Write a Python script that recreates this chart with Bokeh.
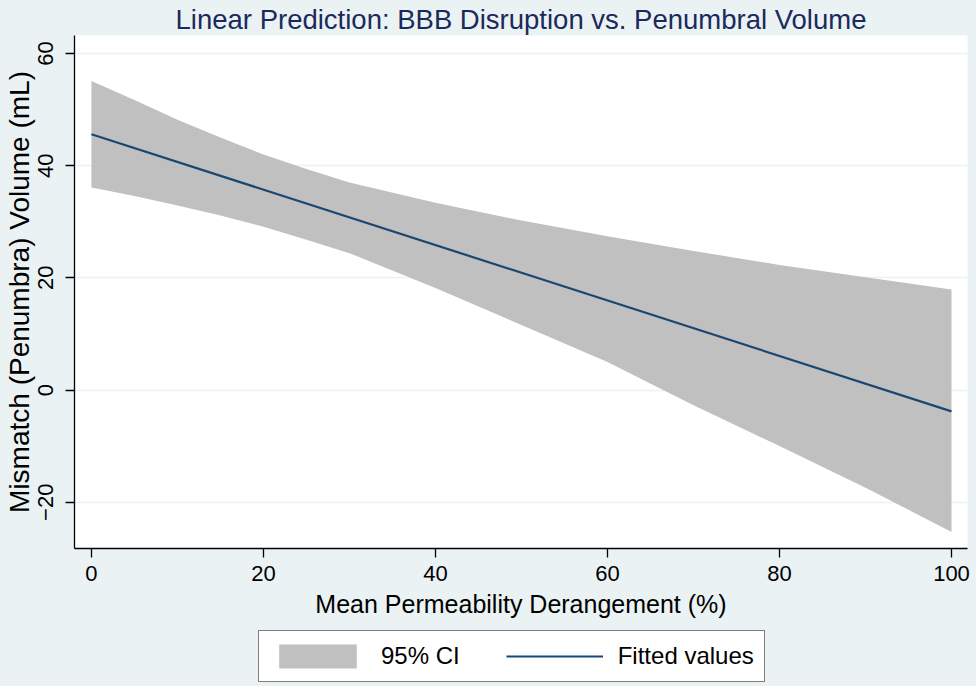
from bokeh.plotting import figure
from bokeh.layouts import column
from bokeh.models import Legend, LegendItem, Range1d, FixedTicker
from bokeh.embed import file_html
from bokeh.resources import INLINE

# ---- data ----
x_ci = [0, 5, 10, 15, 20, 25, 30, 40, 50, 60, 70, 80, 90, 100]
ci_upper = [55.1, 51.7, 48.2, 45.0, 42.0, 39.4, 37.0, 33.4, 30.2, 27.4, 24.8, 22.3, 20.1, 17.9]
ci_lower = [36.1, 34.6, 32.9, 31.1, 29.1, 26.8, 24.4, 18.2, 11.6, 5.0, -2.7, -10.0, -17.4, -25.3]
x_fit = [0, 100]
y_fit = [45.6, -3.8]
x_ticks = [0, 20, 40, 60, 80, 100]
y_ticks = [-20, 0, 20, 40, 60]

TITLE = "Linear Prediction: BBB Disruption vs. Penumbral Volume"
XLABEL = "Mean Permeability Derangement (%)"
YLABEL = "Mismatch (Penumbra) Volume (mL)"
LEGEND_LABELS = ["95% CI", "Fitted values"]

BG = "#eaf2f3"
FONT = "Liberation Sans"
BAND_COLOR = "#c0c0c0"
LINE_COLOR = "#1a476f"

p = figure(width=976, height=624, output_backend="svg", toolbar_location=None,
           x_range=Range1d(-1.97, 101.86), y_range=Range1d(-28.25, 63.2),
           min_border_left=73, min_border_right=9, min_border_top=35, min_border_bottom=76)

p.background_fill_color = "white"
p.border_fill_color = BG
p.outline_line_color = None

band = p.varea(x=x_ci, y1=ci_lower, y2=ci_upper, fill_color=BAND_COLOR, fill_alpha=1.0)
ln = p.line(x=x_fit, y=y_fit, line_color=LINE_COLOR, line_width=2.2)

# title
p.title.text = TITLE
p.title.text_font = FONT
p.title.text_font_size = "27.5px"
p.title.text_font_style = "normal"
p.title.text_color = "#1a2a5c"
p.title.align = "center"
p.title.standoff = 1

# axes
for ax in (p.xaxis[0], p.yaxis[0]):
    ax.axis_line_color = "black"
    ax.axis_line_width = 1.3
    ax.major_tick_line_color = "black"
    ax.major_tick_line_width = 1.3
    ax.major_tick_out = 9
    ax.major_tick_in = 0
    ax.minor_tick_line_color = None
    ax.major_label_text_font = FONT
    ax.major_label_text_font_size = "22px"
    ax.major_label_text_color = "black"
    ax.axis_label_text_font = FONT
    ax.axis_label_text_font_style = "normal"
    ax.axis_label_text_color = "black"

p.xaxis[0].ticker = FixedTicker(ticks=x_ticks)
p.yaxis[0].ticker = FixedTicker(ticks=y_ticks)
p.xaxis[0].axis_label = XLABEL
p.yaxis[0].axis_label = YLABEL
p.xaxis[0].axis_label_text_font_size = "25px"
p.yaxis[0].axis_label_text_font_size = "28px"
p.xaxis[0].major_label_standoff = 8
p.yaxis[0].major_label_standoff = 12
p.xaxis[0].axis_label_standoff = 6
p.yaxis[0].axis_label_standoff = 1
p.yaxis[0].major_label_orientation = "vertical"

p.xgrid.grid_line_color = None
p.ygrid.grid_line_color = BG
p.ygrid.grid_line_width = 1.3

# legend strip (separate figure below the plot so the legend is not clipped);
# its key renderers reuse the same data but lie outside the strip's view
q = figure(width=976, height=62, output_backend="svg", toolbar_location=None,
           x_range=Range1d(-1000, -999), y_range=Range1d(-1000, -999),
           x_axis_location=None, y_axis_location=None,
           min_border_left=0, min_border_right=0, min_border_top=0, min_border_bottom=0)
q.grid.visible = False
q.background_fill_color = BG
q.border_fill_color = BG
q.outline_line_color = None
key_band = q.varea(x=x_ci, y1=ci_lower, y2=ci_upper, fill_color=BAND_COLOR, fill_alpha=1.0)
key_line = q.line(x=x_fit, y=y_fit, line_color=LINE_COLOR, line_width=2.2)

# the strip's frame is aligned with the main frame (left edge at x=73)
legend = Legend(items=[LegendItem(label=LEGEND_LABELS[0], renderers=[key_band]),
                       LegendItem(label=LEGEND_LABELS[1], renderers=[key_line])],
                orientation="horizontal", location=(184, 4))
legend.glyph_width = 97
legend.glyph_height = 30
legend.label_standoff = 15
legend.spacing = 46
legend.padding = 10
legend.margin = 0
legend.label_text_font = FONT
legend.label_text_font_size = "24px"
legend.label_text_color = "black"
legend.border_line_color = "black"
legend.border_line_width = 1.5
legend.background_fill_color = "white"
legend.background_fill_alpha = 1.0
q.add_layout(legend)

layout = column(p, q, spacing=0)

html = file_html(layout, INLINE)
html = html.replace("</head>", "<style>html,body{background:%s;margin:0;}</style></head>" % BG, 1)
open("out.html", "w").write(html)
